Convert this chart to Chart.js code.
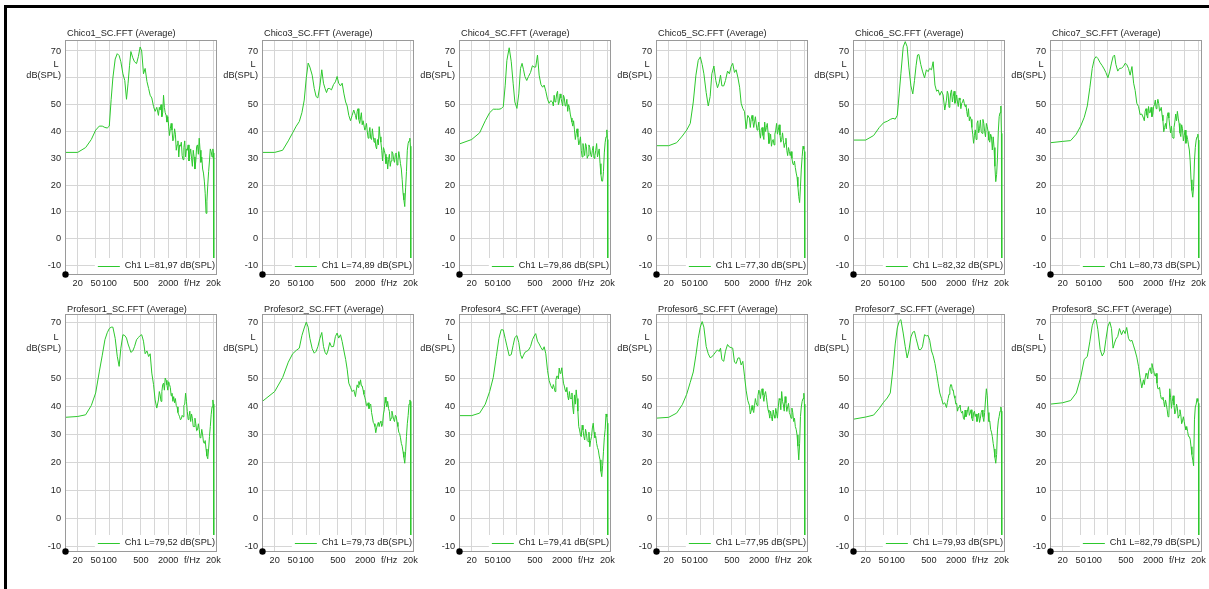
<!DOCTYPE html>
<html><head><meta charset="utf-8">
<script src="https://cdn.jsdelivr.net/npm/chart.js@4.4.0/dist/chart.umd.min.js"></script>
<style>
html,body{margin:0;padding:0;background:#fff;width:1209px;height:589px;overflow:hidden;position:relative;}
#frame{position:absolute;left:4px;top:5px;width:1300px;height:700px;border-top:3px solid #000;border-left:3px solid #000;}
canvas{position:absolute;}
</style></head><body>
<div id="frame"></div>
<script>
// ---------------- data ----------------
const freqHz = [10.5, 20, 30, 40, 50, 60, 70, 80, 90, 100,
  110, 120, 135, 150, 165, 180, 200, 220, 240, 260,
  280, 300, 330, 360, 400, 440, 480, 520, 570, 620,
  680, 740, 800, 870, 950, 1030, 1120, 1220, 1275, 1330,
  1390, 1450, 1515, 1580, 1650, 1720, 1800, 1880, 1965, 2050,
  2140, 2230, 2330, 2430, 2540, 2650, 2770, 2890, 3020, 3150,
  3290, 3430, 3580, 3740, 3910, 4080, 4260, 4450, 4650, 4850,
  5070, 5290, 5530, 5770, 6020, 6290, 6570, 6860, 7160, 7480,
  7810, 8160, 8520, 8900, 9300, 9710, 10140, 10590, 11060, 11550,
  12060, 12600, 13160, 13740, 14350, 14990, 15660, 16350, 17070, 17830,
  18620, 19450, 20000, 20400];

const chico1 = [32.2, 32.2, 34, 37, 40.5, 42, 42, 41.5, 41.3, 42,
  52, 60, 67, 69, 68.3, 66, 61.5, 59, 52, 58,
  64.5, 69.8, 67.5, 66, 65.3, 68, 71.5, 70, 61.5, 63.5,
  58.6, 56, 53.5, 52.5, 49.3, 47.5, 49, 46, 49, 48,
  50, 45.5, 47, 53.5, 49, 47, 46, 43.5, 45.5, 42,
  38.5, 41, 43, 40.5, 36.5, 37.5, 41, 39, 33, 35,
  36.5, 30.5, 35, 34.5, 36, 31, 29.5, 34, 36.5, 30.5,
  33.5, 33, 35, 29, 31.5, 33.5, 30, 27, 33, 30.5,
  26, 29, 34.5, 35, 31.5, 37.5, 33, 28.5, 30.5, 26,
  24.5, 21.5, 17, 9.5, 14, 20, 25, 29, 33.5, 32.5,
  30.5, 33.5, 32, -40];
const chico3 = [32.2, 32.2, 33, 36.5, 39.5, 42, 43.7, 47, 51.7, 60,
  65.5, 64, 61, 56, 53, 52.5, 57, 63, 58, 56,
  54.5, 56, 56, 55.5, 57.5, 58.5, 60.5, 58, 57, 58,
  54, 51, 49.5, 46, 44, 46, 48, 46, 44.5, 47.5,
  48.5, 44.5, 43, 45, 47, 42.5, 44, 44, 40.5, 41.5,
  43, 39.8, 37.5, 39.5, 41.5, 37.5, 37, 41, 38, 36,
  37.5, 34.5, 33.5, 37, 35, 41.8, 38, 36, 33, 29,
  34, 33, 31.5, 28, 30.5, 26, 29.5, 31.5, 27, 29,
  32.5, 32, 29.5, 28.5, 31.5, 32, 27.5, 29, 32.5, 30.5,
  28, 26, 22, 17, 14.5, 12, 19, 25, 33, 35.6,
  36.5, 37.5, 34.5, -40];
const chico4 = [35.3, 37, 39.5, 44, 47, 48.3, 48.3, 48.3, 48.5, 49.3,
  57, 66.5, 71.2, 66, 58, 51, 48.6, 54, 63.5, 65.4,
  63, 60.5, 59, 60.5, 62, 64.5, 64, 64, 68.5, 61,
  57.5, 56.5, 57.3, 55, 52, 50.5, 51.5, 51, 49.5, 53.5,
  51, 51.5, 54, 55, 50, 51, 54, 52.5, 51, 49.5,
  53.5, 52.5, 49.5, 50, 52, 47.5, 50, 49, 46.5, 45,
  43.5, 42, 44, 40.6, 37, 39.3, 41, 38, 35, 36,
  38, 33, 30.5, 35.5, 33, 31, 35.5, 34.5, 30, 31,
  35, 34, 31.5, 30.5, 33, 34.5, 30, 31, 33, 35.5,
  30.5, 32, 33.5, 28, 24, 21.5, 21.5, 25, 32, 36,
  38, 40.6, 37, -40];
const chico5 = [34.7, 34.7, 35.8, 38.3, 40.5, 43, 51, 61, 66.5, 67.8,
  65, 61.5, 54.5, 49.5, 53, 61.5, 64.4, 59, 56.3, 58,
  61, 57, 57, 59, 62.5, 61.5, 64.2, 65.4, 62, 63,
  60, 56.5, 50.5, 48.6, 47.4, 41, 46, 45, 41.5, 44.5,
  46, 44, 41.5, 43.5, 45.5, 42.8, 40.5, 41.5, 43.5, 39.5,
  37.5, 41, 41.5, 38.5, 37, 43.5, 40, 41.5, 43, 39.5,
  35.5, 36.8, 39, 34.5, 36.5, 37, 35, 39, 40.5, 43,
  39, 40.5, 42.5, 38.7, 36, 37, 39.5, 36.5, 34, 35.6,
  37.5, 33, 31, 34, 32.5, 31, 32.5, 30, 28, 27.5,
  29, 26.5, 24.5, 23, 19.5, 15.7, 13.5, 19.4, 26, 30.6,
  34.5, 33.5, 32.5, -40];
const chico6 = [36.8, 36.8, 38.5, 41.5, 43.3, 43.8, 44.5, 44.9, 44.6, 46,
  54, 61.5, 71.5, 73.5, 71.6, 64, 57, 54, 59, 64.5,
  68.5, 68.7, 65, 62.5, 60, 63, 62.3, 63.5, 63, 66,
  57.3, 55, 55.5, 53.5, 55, 53.6, 48, 51.7, 55, 54,
  49, 51, 54.5, 55.5, 51, 53, 55, 50.5, 51.5, 53.6,
  51, 49.3, 52.5, 51.7, 48.5, 50.5, 51, 52, 50.5, 49.3,
  50, 47.4, 45.5, 48.5, 44, 45.5, 44.5, 41.5, 39, 35.6,
  38.5, 40.6, 37, 43, 44, 39.5, 41, 44.3, 40, 39.3,
  44.5, 43, 40, 38, 43, 41.8, 40, 36.8, 36, 39,
  38, 33.1, 38, 34, 27, 21.3, 24, 30, 40, 45.5,
  47, 49.5, 39.3, -40];
const chico7 = [35.8, 36.3, 36.6, 39, 42, 45.3, 49.5, 56.5, 63.5, 67,
  67.9, 67.2, 65.6, 64.5, 63.3, 62, 60, 62.5, 65.5, 67.9,
  68.5, 65, 62.5, 63.5, 63.6, 64.2, 65.4, 65, 63.5, 61,
  64.2, 58, 55.3, 50.5, 49.3, 46.3, 46.5, 45, 44, 47.5,
  48.5, 46.1, 45, 49.3, 47, 47, 49, 45.5, 46.5, 49.3,
  50, 51.7, 48.5, 49.9, 52, 50.5, 47.5, 48, 49, 46.1,
  44, 39.9, 41.5, 43, 41, 45.5, 47, 45, 42, 39.5,
  42, 38.1, 37.5, 41.5, 43.5, 46.5, 44, 47.5, 45, 43,
  39.5, 38.1, 42.5, 41, 36.5, 38.5, 40.5, 35.6, 38.5, 37,
  35, 33.1, 29, 22, 18, 15.5, 19.5, 29, 34, 36.8,
  38, 39, 36.8, -40];
const profesor1 = [36.3, 36.6, 37.2, 40.5, 45, 52.5, 58.5, 64, 66.5, 68,
  68.5, 68.5, 64.5, 58.1, 54.5, 61, 65.8, 65.5, 64.6, 62.5,
  61, 59.5, 60, 61.5, 64, 64.8, 65.5, 65.8, 63.5, 59,
  60, 58, 59, 52.1, 48, 42.5, 39.6, 42.5, 45.5, 44.3,
  42, 45.5, 48, 48.5, 46, 50.3, 49.5, 47.9, 46, 49,
  48, 47, 44, 44.9, 42, 43.7, 41.5, 43, 40.5, 40,
  38, 37.2, 36.5, 35.4, 35.8, 37, 36.5, 40.5, 41, 44.9,
  42, 38.4, 35.5, 36.6, 38.5, 34.8, 37.5, 36, 33, 33,
  36, 34, 31.5, 31.8, 34, 32, 29, 29.5, 32, 30,
  27.5, 27, 28, 25, 22.5, 21.5, 25, 29.4, 33, 37.2,
  40, 42.5, 41, -40];
const profesor2 = [41.9, 45.5, 50.5, 56, 59, 60.2, 61, 65.5, 68.2, 70.3,
  68.5, 64.5, 60.8, 59.2, 59.9, 61.5, 64.5, 66.6, 61.6, 59.5,
  58.7, 60, 63, 61.5, 61.6, 65.2, 66.4, 64.6, 65.8, 63.4,
  60, 57, 53.5, 48.5, 47, 45.5, 46.1, 43.7, 46, 47.9,
  47, 49.1, 48, 49.7, 47.5, 47.5, 46, 44.5, 43.5, 42.2,
  40.5, 40.5, 41.5, 39.4, 40.5, 41, 38, 36.4, 34.5, 34,
  33, 30.8, 32.5, 33.6, 34.5, 33, 34.5, 35, 33, 34,
  37.5, 39, 43.5, 41.5, 40, 42, 39.5, 38.4, 35, 36,
  38.5, 37, 35.5, 34.8, 37, 36.6, 34.5, 33, 31, 30.5,
  29, 27, 26, 24, 22, 19.9, 24, 29.4, 34, 37,
  41, 42.5, 42, -40];
const profesor4 = [36.9, 36.9, 37.8, 41, 45.5, 50.5, 58, 64.5, 67.6, 67.5,
  64.5, 61.8, 58.3, 58.7, 62, 64.8, 65.5, 63, 58.7, 57.3,
  58.5, 59.5, 59.9, 60.3, 61.6, 64, 65.3, 66.2, 63.5, 62.5,
  61.2, 60.3, 61.5, 59, 53, 49.5, 47.6, 46.5, 48, 47,
  45.5, 49.5, 51, 51, 50, 53.9, 52, 52.5, 54, 51,
  48.5, 47.5, 46, 45.5, 47, 44, 42.5, 45.5, 43, 43,
  45, 40, 37.5, 44.3, 41, 46.1, 43, 38.5, 33, 31.8,
  30, 29.4, 33.5, 31.8, 29.5, 28.2, 32, 30.6, 28, 27.6,
  31, 25.8, 28, 29.4, 32.5, 34.2, 31, 29, 29.5, 27,
  25.5, 24.6, 22.5, 21.1, 17, 15.1, 19, 24, 29, 32,
  37.5, 36.5, 34.2, -40];
const profesor6 = [36, 36.3, 37.8, 40.8, 44.5, 48.8, 52.5, 58.5, 64.5, 68.5,
  70.5, 68.5, 61.6, 59, 57.6, 57.9, 58.8, 59.7, 60.4, 59.8,
  61, 56.9, 56.3, 59.9, 62.3, 61.4, 61.2, 61, 56, 55.5,
  57.5, 57.5, 55, 56.3, 51, 46, 42.3, 40.5, 37.5, 38.5,
  40.5, 39, 38, 40.5, 43, 41.5, 40.5, 44, 46, 45.5,
  43, 45.8, 46.5, 44.2, 42, 44.5, 45.5, 43.5, 41, 38.9,
  38, 36, 38.5, 36.6, 35, 38.9, 37, 36, 39.5, 37.8,
  36, 40, 43, 42.5, 39, 45.5, 42, 40.7, 38.5, 43.7,
  41.5, 38.4, 40, 41.3, 38, 37.2, 36, 39.6, 38, 34.8,
  36, 33, 32, 30, 26, 21.1, 27, 36.6, 40, 42,
  43, 44.9, 41, -40];
const profesor7 = [35.6, 36.4, 37.1, 39.5, 41.7, 43.2, 45, 53.5, 62.5, 68.2,
  70.6, 71.2, 66.4, 61.5, 57.5, 60, 65, 66.7, 67, 64.5,
  62.5, 60.5, 60.5, 61.5, 65.8, 65.4, 65.5, 63.8, 60, 58.3,
  55.5, 52, 48.5, 45, 43, 41, 41.5, 39.8, 41.5, 43,
  44.5, 46.7, 48, 47.9, 46, 46.1, 44, 43.1, 41, 41.3,
  38.5, 39.6, 40, 40.7, 38.5, 37.8, 38.5, 36, 35.5, 38.9,
  36.5, 37.2, 39, 40.1, 37, 37.8, 39, 36, 35, 37.8,
  38.5, 36.6, 37.5, 34.8, 36, 37.8, 34.5, 36, 38, 38.9,
  36.5, 34.8, 38, 42.5, 46.5, 44, 38, 34.8, 35, 32,
  31, 29.4, 27, 25, 22, 19.9, 23, 31.8, 35, 36.6,
  38.5, 40, 38.5, -40];
const profesor8 = [41, 41.5, 42.3, 45, 50.5, 57, 58, 63.5, 69, 71.2,
  71.2, 67.6, 60.5, 58.2, 59.5, 64, 68.8, 70.4, 68, 61,
  62.8, 64.2, 65.2, 68, 65.8, 67.4, 66.2, 68.4, 64.5, 63.5,
  63.8, 61.8, 60, 57.8, 54.5, 50.5, 46.8, 49.7, 48, 50.3,
  52, 51.5, 50, 52.5, 53.5, 54, 52, 55.5, 54, 53,
  51.5, 51, 52, 48.5, 46.5, 46.5, 47, 44.5, 43, 42.8,
  43.5, 41.9, 40, 42.5, 41, 39, 36.5, 37, 46.5, 43.5,
  39.5, 42, 44, 40.7, 37.5, 38.5, 41, 39.6, 36, 37,
  39, 37.2, 34, 35, 36.5, 34.8, 33, 31.8, 33, 31.2,
  29.5, 29.4, 28.5, 25.8, 23, 21, 19, 35.4, 40, 41,
  43, 42, 41.3, -40];

const panelTitles = ['Chico1_SC.FFT (Average)', 'Chico3_SC.FFT (Average)', 'Chico4_SC.FFT (Average)',
  'Chico5_SC.FFT (Average)', 'Chico6_SC.FFT (Average)', 'Chico7_SC.FFT (Average)',
  'Profesor1_SC.FFT (Average)', 'Profesor2_SC.FFT (Average)', 'Profesor4_SC.FFT (Average)',
  'Profesor6_SC.FFT (Average)', 'Profesor7_SC.FFT (Average)', 'Profesor8_SC.FFT (Average)'];
const levelLabels = ['Ch1 L=81,97 dB(SPL)', 'Ch1 L=74,89 dB(SPL)', 'Ch1 L=79,86 dB(SPL)',
  'Ch1 L=77,30 dB(SPL)', 'Ch1 L=82,32 dB(SPL)', 'Ch1 L=80,73 dB(SPL)',
  'Ch1 L=79,52 dB(SPL)', 'Ch1 L=79,73 dB(SPL)', 'Ch1 L=79,41 dB(SPL)',
  'Ch1 L=77,95 dB(SPL)', 'Ch1 L=79,93 dB(SPL)', 'Ch1 L=82,79 dB(SPL)'];
const seriesList = [chico1, chico3, chico4, chico5, chico6, chico7,
  profesor1, profesor2, profesor4, profesor6, profesor7, profesor8];

// x ticks: grid lines at the decade steps; the unit label "f/Hz" sits between 5000 and 10000 without a grid line
const xTickValues = [20, 50, 100, 200, 500, 1000, 2000, 5000, 6800, 10000, 20000];
const xTickLabels = ['20', '50', '100', '', '500', '', '2000', '', 'f/Hz', '', '20k'];
const xUnitLabel = 'f/Hz';
const yTickValues = [-10, 0, 10, 20, 30, 40, 50, 60, 70];
const yUnitValue = 60;
const yUnitLines = ['L', 'dB(SPL)'];

// ---------------- layout / style ----------------
const FONT_FAMILY = '"Liberation Sans", Arial, sans-serif';
const FONT_SIZE = 9.2;
const TEXT = '#1e1e1e';
const GRID = '#d6d6d6';
const FRAME = '#9a9a9a';
const LINE = 'rgb(45,200,45)';
const panelLefts = [65, 262, 459, 656, 853, 1050];
const rowTops = [40, 314];
const rowBottoms = [275, 552];
const rowYMin = [-13.5, -11.8];
const rowYMax = [74.1, 73.2];
const xMin = 10.5, xMax = 24000;
const plotW = 152;
const PADL = 64, PADT = 20, PADR = 6, PADB = 22;
const fontStr = FONT_SIZE + 'px ' + FONT_FAMILY;

const panelDecor = {
  id: 'panelDecor',
  afterDatasetsDraw(chart, args, opts) {
    const ctx = chart.ctx, a = chart.chartArea;
    ctx.save();
    ctx.font = fontStr;
    // legend inside the plot, bottom right
    const label = chart.data.datasets[0].label;
    const tw = ctx.measureText(label).width;
    const textRight = a.right - 2;
    const textLeft = textRight - tw;
    const lineR = textLeft - 5, lineL = lineR - 22;
    const boxL = lineL - 3;
    const cy = a.bottom - 9.5;
    ctx.fillStyle = '#ffffff';
    ctx.fillRect(boxL, a.bottom - 17, a.right - boxL, 17);
    ctx.strokeStyle = LINE; ctx.lineWidth = 1;
    ctx.beginPath(); ctx.moveTo(lineL, Math.round(cy) + 0.5); ctx.lineTo(lineR, Math.round(cy) + 0.5); ctx.stroke();
    ctx.fillStyle = TEXT; ctx.textBaseline = 'middle'; ctx.textAlign = 'left';
    ctx.fillText(label, textLeft, cy);
    // plot frame
    ctx.strokeStyle = FRAME;
    ctx.strokeRect(a.left + 0.5, a.top + 0.5, a.right - a.left - 1, a.bottom - a.top - 1);
    // origin dot
    ctx.fillStyle = '#000';
    ctx.beginPath(); ctx.arc(a.left + 0.5, a.bottom - 0.5, 3.2, 0, Math.PI * 2); ctx.fill();
    // title
    ctx.fillStyle = TEXT; ctx.textAlign = 'left'; ctx.textBaseline = 'middle';
    ctx.fillText(opts.title, a.left + 2, a.top - opts.titleGap);
    // unit label at the 60 tick
    const y60 = chart.scales.y.getPixelForValue(yUnitValue);
    ctx.textAlign = 'right';
    ctx.fillText(yUnitLines[1], a.left - 4, y60 - 2);
    ctx.fillText(yUnitLines[0], a.left - 6.5, y60 - 13);
    ctx.restore();
  }
};

seriesList.forEach((vals, i) => {
  const row = Math.floor(i / 6), col = i % 6;
  const plotH = rowBottoms[row] - rowTops[row];
  const cv = document.createElement('canvas');
  cv.width = PADL + plotW + PADR;
  cv.height = PADT + plotH + PADB;
  cv.style.left = (panelLefts[col] - PADL) + 'px';
  cv.style.top = (rowTops[row] - PADT) + 'px';
  cv.style.width = cv.width + 'px';
  cv.style.height = cv.height + 'px';
  document.body.appendChild(cv);
  const font = { family: FONT_FAMILY, size: FONT_SIZE };
  new Chart(cv, {
    type: 'line',
    data: {
      datasets: [{
        label: levelLabels[i],
        data: freqHz.map((f, k) => ({ x: f, y: vals[k] })),
        borderColor: LINE, borderWidth: 1, pointRadius: 0, tension: 0, fill: false
      }]
    },
    options: {
      responsive: false, animation: false, events: [],
      layout: { padding: { left: 0, top: PADT, right: PADR, bottom: 0 } },
      plugins: {
        legend: { display: false }, tooltip: { enabled: false }, title: { display: false },
        panelDecor: { title: panelTitles[i], titleGap: row === 0 ? 7 : 5 }
      },
      scales: {
        x: {
          type: 'logarithmic', min: xMin, max: xMax,
          afterBuildTicks: s => { s.ticks = xTickValues.map(v => ({ value: v })); },
          ticks: { autoSkip: false, maxRotation: 0, minRotation: 0, padding: 3, color: TEXT, font,
            callback: (v, idx) => xTickLabels[idx] },
          grid: { drawTicks: false, lineWidth: 1,
            color: c => (xTickLabels[c.index] === xUnitLabel ? 'rgba(0,0,0,0)' : GRID) },
          border: { display: false },
          afterFit: s => { s.height = PADB; s.paddingLeft = 0; s.paddingRight = 0; }
        },
        y: {
          type: 'linear', min: rowYMin[row], max: rowYMax[row],
          afterBuildTicks: s => { s.ticks = yTickValues.map(v => ({ value: v })); },
          ticks: { padding: 4, color: TEXT, font,
            callback: (v) => (v === yUnitValue ? '' : String(v)) },
          grid: { color: GRID, drawTicks: false, lineWidth: 1 },
          border: { display: false },
          afterFit: s => { s.width = PADL; s.paddingTop = 0; s.paddingBottom = 0; }
        }
      }
    },
    plugins: [panelDecor]
  });
});
</script>
</body></html>
